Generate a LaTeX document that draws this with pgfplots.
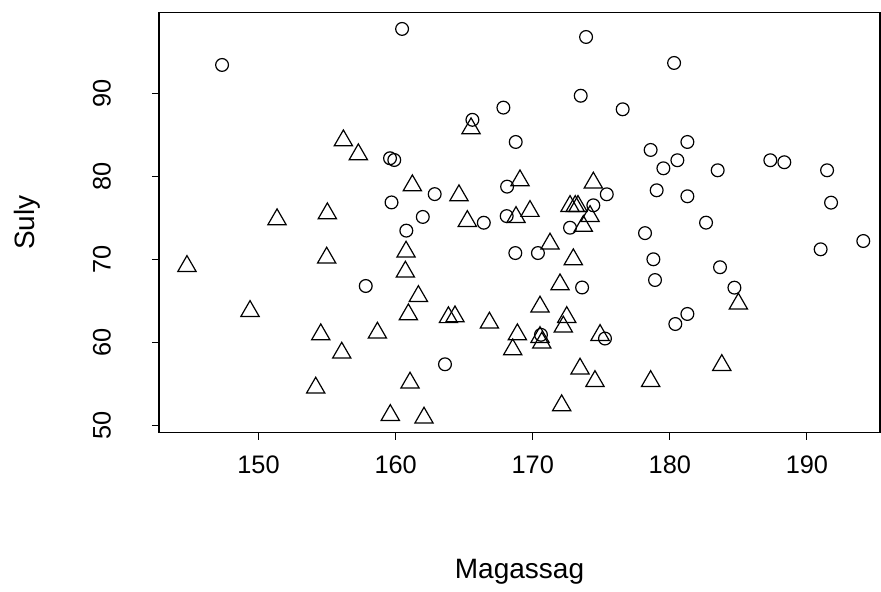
\documentclass[border=0pt]{standalone}
\usepackage{pgfplots}
\pgfplotsset{compat=1.18}
\usepackage{fontspec}
\setmainfont{Liberation Sans}
\begin{document}
\fontsize{20}{24}\selectfont
\begin{tikzpicture}[x=1pt,y=1pt]
\useasboundingbox (-119.25,-119.5) rectangle (541.5,324.5);
\begin{axis}[
  at={(0,0)}, anchor=south west,
  scale only axis, width=540.75pt, height=315pt,
  xmin=142.74, xmax=195.33, ymin=49.11, ymax=99.71,
  xtick={150,160,170,180,190}, ytick={50,60,70,80,90},
  xtick pos=bottom, ytick pos=left,
  tick align=outside, major tick length=5.25pt,
  every tick/.style={black, line width=0.8pt},
  axis line style={black, line width=0.9pt},
  /pgf/number format/assume math mode=true,
  tick label style={font=\fontsize{19}{23}\selectfont},
  x tick label style={anchor=center, yshift=-18.7pt},
  y tick label style={rotate=90, anchor=center, yshift=37.5pt},
  every axis x label/.style={at={(axis description cs:0.5,-0.331)}, anchor=center, font=\fontsize{21}{25}\selectfont},
  every axis y label/.style={at={(axis description cs:-0.183,0.5)}, rotate=90, anchor=center, font=\fontsize{21}{25}\selectfont},
  xlabel={Magassag}, ylabel={Suly},
  clip=false,
]
\addplot[only marks, mark=o, mark size=4.8pt, mark options={line width=0.9pt, black}] coordinates {
(147.34,93.41) (160.47,97.75) (173.89,96.78) (180.31,93.65) (165.6,86.8)
(167.86,88.27) (173.5,89.7) (176.56,88.07) (168.76,84.13) (181.28,84.13)
(178.6,83.17) (180.55,81.93) (179.53,80.96) (183.49,80.72) (187.33,81.93)
(188.35,81.69) (191.47,80.72) (179.04,78.31) (181.28,77.59) (191.76,76.82)
(182.64,74.41) (159.59,82.17) (159.9,81.96) (159.7,76.85) (162.85,77.85)
(168.13,78.75) (175.4,77.83) (161.98,75.1) (166.43,74.4) (168.1,75.2)
(174.42,76.5) (160.78,73.45) (172.72,73.8) (178.19,73.15) (168.73,70.75)
(170.38,70.75) (173.6,66.6) (163.6,57.35) (170.6,60.9) (175.27,60.45)
(157.82,66.78) (178.8,70.0) (178.92,67.5) (183.66,69.04) (184.71,66.58)
(181.28,63.41) (180.4,62.2) (191.0,71.2) (194.11,72.2)
};
\addplot[only marks, mark=triangle, mark size=7.9pt, mark options={line width=0.9pt, black}] coordinates {
(144.78,69.17) (149.38,63.75) (151.35,74.8) (155.02,75.52) (154.97,70.18)
(154.54,60.94) (156.07,58.73) (154.17,54.52) (158.67,61.14) (159.61,51.22)
(156.19,84.31) (157.28,82.63) (160.76,70.9) (160.71,68.49) (161.66,65.55)
(160.93,63.35) (163.85,63.0) (164.33,63.1) (161.05,55.12) (162.07,50.9)
(161.22,78.89) (164.62,77.69) (165.23,74.59) (166.84,62.35) (168.88,60.94)
(168.54,59.13) (169.07,79.49) (174.42,79.22) (169.8,75.8) (168.78,75.07)
(172.72,76.4) (173.1,76.4) (173.3,76.4) (174.18,75.19) (173.69,74.0)
(171.26,71.87) (171.99,66.96) (170.53,64.28) (172.48,63.02) (172.23,61.87)
(170.53,60.61) (170.66,59.94) (174.91,60.86) (173.45,56.81) (174.54,55.31)
(172.11,52.39) (178.6,55.31) (183.79,57.24) (185.0,64.64) (165.5,85.76)
(172.96,69.98)
};
\end{axis}
\end{tikzpicture}
\end{document}
